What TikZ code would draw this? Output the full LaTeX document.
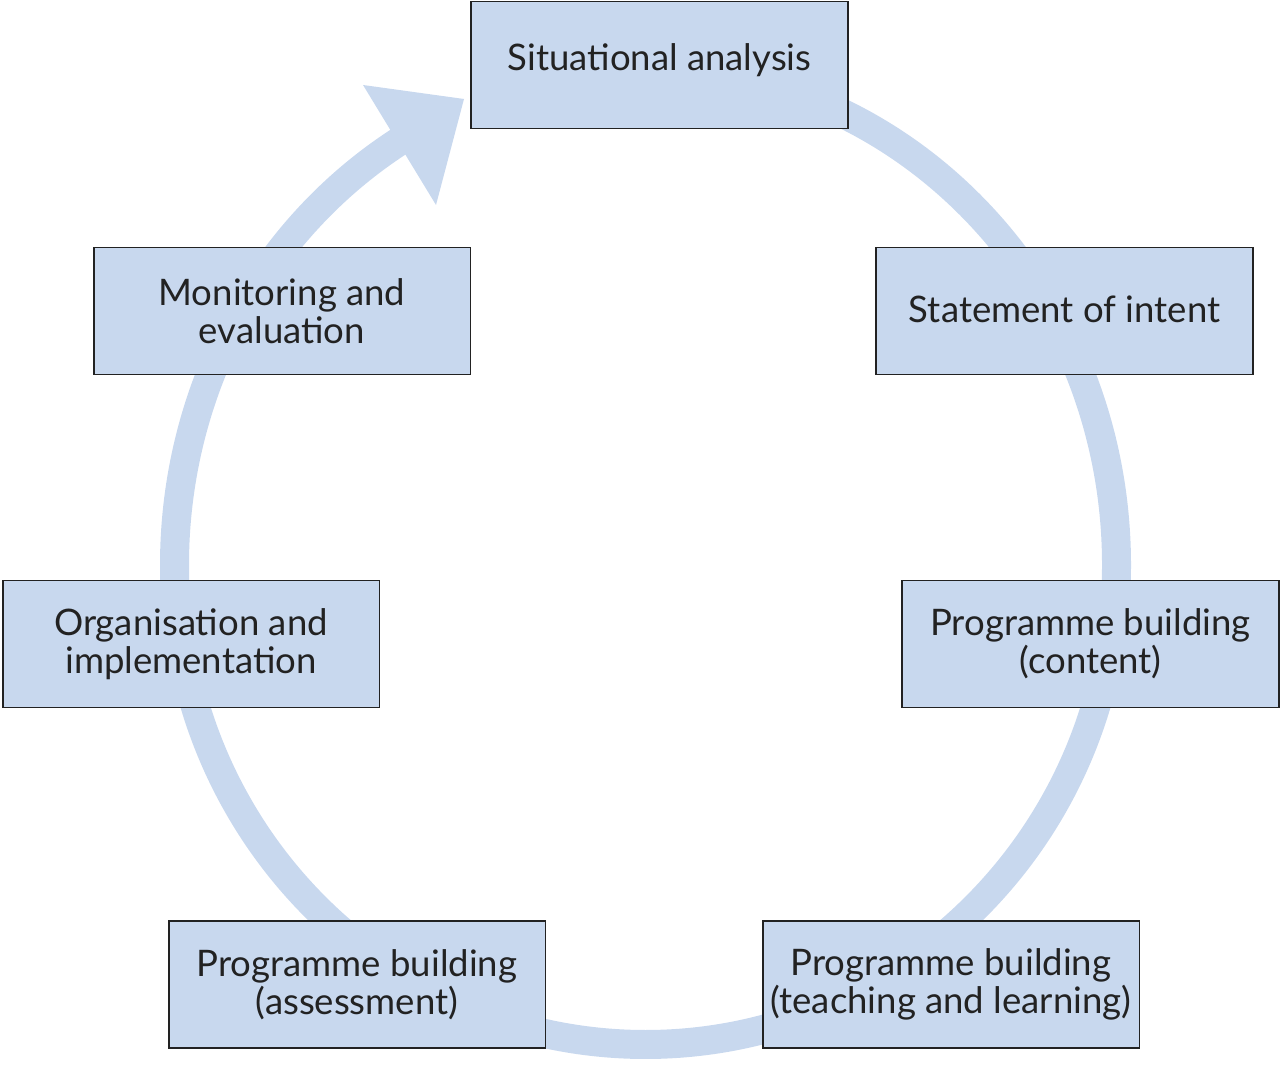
\documentclass[tikz,border=0pt]{standalone}
\usepackage{fontspec}
\setmainfont{Lato}
\usetikzlibrary{positioning}
\definecolor{ringblue}{HTML}{C8D8EE}
\definecolor{boxblue}{HTML}{C8D8EE}
\definecolor{edgegray}{HTML}{222222}
\tikzset{
stage/.style={
draw=edgegray,
line width=1.1pt,
fill=boxblue,
minimum width=7.54cm,
minimum height=2.54cm,
inner sep=0pt,
align=center,
text=edgegray,
font=\fontsize{20.8}{21.6}\selectfont
},
ring/.style={
draw=ringblue,
line width=0.58cm
}
}

\begin{document}
\begin{tikzpicture}[x=0.02cm,y=0.02cm]
\useasboundingbox (0,0) rectangle (1280,1091);
% ring round the cycle
\draw[ring] (645.5,1023)
  arc[x radius=471,y radius=497,start angle=90,end angle=0]
  arc[x radius=471,y radius=479.5,start angle=0,end angle=-180]
  arc[x radius=471,y radius=497,start angle=180,end angle=121.6];
\coordinate (headL) at (363,1006);
\coordinate (headtip) at (464,992);
\coordinate (headR) at (436,886);
\fill[ringblue] (headL)--(headtip)--(headR)--cycle;

\node[stage] (sit) at (659.5,1026) {\raisebox{2.5pt}[\height][\depth]{Situational analysis}};
\node[stage] (intent) at (1064.5,780) {\raisebox{1pt}[\height][\depth]{Statement of intent}};
\node[stage] (content) at (1090.5,447) {Programme building\\(content)};
\node[stage] (teach) at (951,106.5) {Programme building\\(teaching and learning)};
\node[stage] (assess) at (357,106.5) {Programme building\\(assessment)};
\node[stage] (org) at (191,447) {Organisation and\\implementation};
\node[stage] (monitor) at (282,780) {Monitoring and\\evaluation};
\end{tikzpicture}
\end{document}
